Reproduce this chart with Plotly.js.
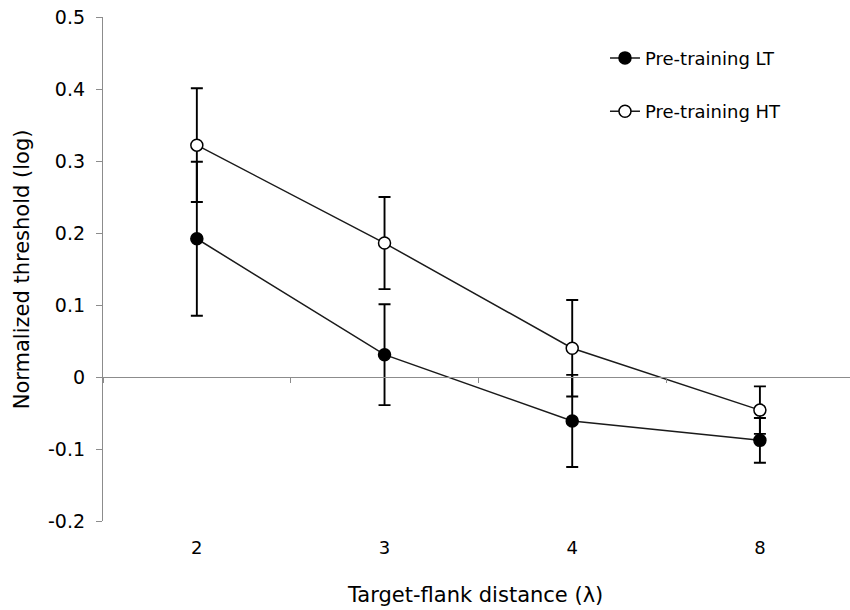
<!DOCTYPE html>
<html>
<head>
<meta charset="utf-8">
<script src="https://cdn.plot.ly/plotly-3.0.1.min.js"></script>
<style>html,body{margin:0;padding:0;background:#fff;}</style>
</head>
<body>
<div id="chart" style="width:850px;height:610px;"></div>
<script>
const categories = ["2", "3", "4", "8"];
const ltValues = [0.192, 0.031, -0.061, -0.088];
const ltErrors = [0.107, 0.070, 0.064, 0.031];
const htValues = [0.322, 0.186, 0.040, -0.046];
const htErrors = [0.079, 0.064, 0.067, 0.033];
const seriesNames = ["Pre-training LT", "Pre-training HT"];
const yTicks = [-0.2, -0.1, 0, 0.1, 0.2, 0.3, 0.4, 0.5];
const yTickText = ["-0.2", "-0.1", "0", "0.1", "0.2", "0.3", "0.4", "0.5"];

const FONT = "'DejaVu Sans', sans-serif";

function series(name, y, err, fill, group) {
  return {
    type: "scatter", mode: "lines+markers", name: name,
    x: categories, y: y, legendgroup: group,
    line: {color: "#1a1a1a", width: 1.5},
    marker: {symbol: "circle", size: 12, color: fill, line: {color: "#000", width: 1.5}},
    error_y: {type: "data", array: err, visible: true, color: "#000", thickness: 1.9, width: 6}
  };
}

const data = [
  series(seriesNames[0], ltValues, ltErrors, "#000", "a"),
  series(seriesNames[1], htValues, htErrors, "#fff", "b")
];

const layout = {
  width: 850, height: 610,
  margin: {l: 103, r: 0, t: 17, b: 89},
  paper_bgcolor: "#fff", plot_bgcolor: "#fff",
  font: {family: FONT, color: "#000", size: 16},
  showlegend: true,
  legend: {x: 0.672, y: 0.955, xanchor: "left", yanchor: "top", bgcolor: "rgba(0,0,0,0)",
           font: {family: FONT, size: 18, color: "#000"}, tracegroupgap: 27, traceorder: "grouped"},
  xaxis: {
    type: "category", categoryarray: categories, categoryorder: "array",
    range: [-0.5, 3.48], anchor: "free", position: 2/7,
    showline: true, linecolor: "#8c8c8c", linewidth: 1.3,
    ticks: "outside", tickson: "boundaries", ticklen: 5, tickcolor: "#8c8c8c", tickwidth: 1.3,
    showgrid: false, zeroline: false,
    ticklabelstandoff: 154, tickfont: {family: FONT, size: 18, color: "#000"}
  },
  yaxis: {
    range: [-0.2, 0.5], tickvals: yTicks, ticktext: yTickText,
    showline: true, linecolor: "#8c8c8c", linewidth: 1.3,
    ticks: "outside", ticklen: 6, tickcolor: "#8c8c8c", tickwidth: 1.3,
    showgrid: false, zeroline: false, ticklabelstandoff: 7,
    tickfont: {family: FONT, size: 19, color: "#000"}
  },
  annotations: [{
    text: "Target-flank distance (λ)", xref: "paper", yref: "paper",
    x: 0.498, y: -0.147, xanchor: "center", yanchor: "middle", showarrow: false,
    font: {family: FONT, size: 21, color: "#000"}
  }, {
    text: "Normalized threshold (log)", xref: "paper", yref: "paper",
    x: -0.108, y: 0.5, xanchor: "center", yanchor: "middle", textangle: -90, showarrow: false,
    font: {family: FONT, size: 21, color: "#000"}
  }]
};

Plotly.newPlot("chart", data, layout, {displayModeBar: false});
</script>
</body>
</html>
